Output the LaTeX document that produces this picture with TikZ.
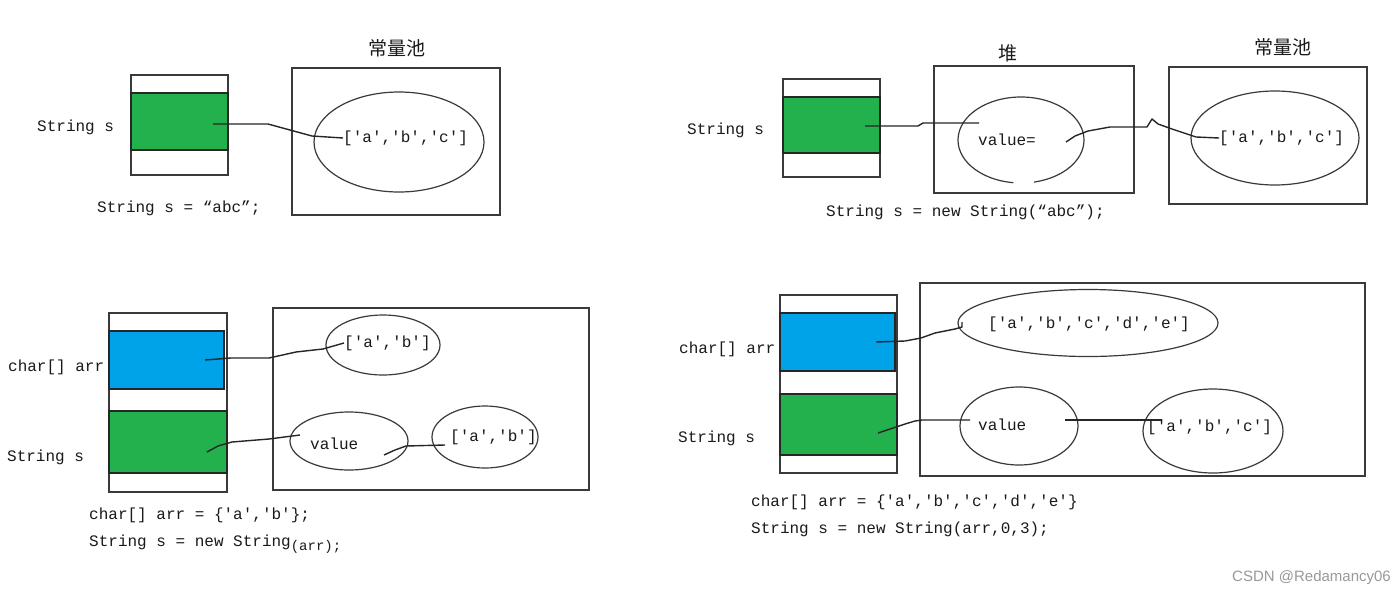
\documentclass[tikz,border=0pt]{standalone}
\usepackage{fontspec}
\setmonofont{Liberation Mono}
\newfontfamily\cjkfont{Noto Sans CJK SC}
\newfontfamily\wmfont{Liberation Sans}
\usetikzlibrary{shapes.geometric}
\definecolor{pgreen}{HTML}{22B14C}
\definecolor{pblue}{HTML}{00A2E8}
\definecolor{lineclr}{HTML}{3A3A3A}
\definecolor{txtclr}{HTML}{1A1A1A}
\begin{document}
\begin{tikzpicture}[x=1pt,y=-1pt,
  box/.style={draw=lineclr, line width=1.2pt, fill=white, anchor=north west, inner sep=0pt, outer sep=0pt},
  cell/.style={draw=black!85, line width=1.4pt, anchor=north west, inner sep=0pt, outer sep=0pt},
  oval/.style={draw=lineclr, ellipse, line width=1.2pt, inner sep=0pt},
  code/.style={font=\ttfamily\fontsize{16}{18}\selectfont, text=txtclr, inner sep=0pt, anchor=west},
  title/.style={font=\cjkfont\fontsize{19}{20}\selectfont, text=txtclr, inner sep=0pt},
  link/.style={draw=black!85, line width=1.4pt, line join=round}
]
\useasboundingbox[fill=white] (0,0) rectangle (1400,595);

%% ---------------- Panel 1 ----------------
\node[box, minimum width=97, minimum height=100] (stack1) at (131,75) {};
\node[cell, fill=pgreen, minimum width=97, minimum height=57] (cell1) at (131,93) {};
\node[code] (lab1) at (37,127) {String s};
\node[box, minimum width=208, minimum height=147] (pool1) at (292,68) {};
\node[title] (tit1) at (397,48) {常量池};
\node[oval, minimum width=170, minimum height=100] (oval1) at (399,142) {};
\node[code] (t1) at (343,138) {['a','b','c']};
\coordinate (c1) at (213,124);
\draw[link] (c1) -- (268,124) -- (290,130) -- (312,136) -- (t1.west);
\node[code] (cap1) at (97,208) {String s = “abc”;};

%% ---------------- Panel 2 ----------------
\node[box, minimum width=97, minimum height=98] (stack2) at (783,79) {};
\node[cell, fill=pgreen, minimum width=97, minimum height=56] (cell2) at (783,97) {};
\node[code] (lab2) at (687,130) {String s};
\node[box, minimum width=200, minimum height=127] (heap2) at (934,66) {};
\node[title] (tit2) at (1008,53) {堆};
\node[ellipse, minimum width=126, minimum height=86, inner sep=0pt] (oval2) at (1021,140) {};
\draw[draw=lineclr, line width=1.2pt] (oval2.center) ++(97:63 and 43) arc[start angle=97, end angle=438, x radius=63, y radius=43];
\node[code] (v2) at (978,140) {value=};
\node[box, minimum width=198, minimum height=137] (pool2) at (1169,67) {};
\node[title] (tit3) at (1283,47) {常量池};
\node[oval, minimum width=168, minimum height=94] (oval3) at (1275,138) {};
\node[code] (t2) at (1219,138) {['a','b','c']};
\coordinate (c2) at (865,126);
\coordinate (e2) at (979,123);
\draw[link] (c2) -- (918,126) -- (923,123) -- (e2);
\coordinate (e2b) at (1066,142);
\draw[link] (t2.west) -- (1196,137) -- (1172,129) -- (1158,124) -- (1152,119) -- (1147,127)
  -- (1134,127) -- (1110,127) -- (1088,131) -- (1075,136) -- (e2b);
\node[code] (cap2) at (826,212) {String s = new String(“abc”);};

%% ---------------- Panel 3 ----------------
\node[box, minimum width=118, minimum height=179] (stack3) at (109,313) {};
\node[cell, fill=pblue, minimum width=115, minimum height=58] (cell3a) at (109,331) {};
\node[cell, fill=pgreen, minimum width=118, minimum height=62] (cell3b) at (109,411) {};
\node[code] (lab3a) at (8,367) {char[] arr};
\node[code] (lab3b) at (7,457) {String s};
\node[box, minimum width=316, minimum height=182] (heap3) at (273,308) {};
\node[oval, minimum width=114, minimum height=60] (ovalA) at (383,345) {};
\node[code] (tA) at (344,343) {['a','b']};
\node[oval, minimum width=118, minimum height=58] (ovalB) at (349,441) {};
\node[code] (tB) at (310,444) {value};
\node[oval, minimum width=106, minimum height=62] (ovalC) at (485,437) {};
\node[code] (tC) at (450,437) {['a','b']};
\coordinate (c3a) at (205,360);
\draw[link] (c3a) -- (231,358) -- (269,358) -- (296,352) -- (323,349) -- (tA.west);
\coordinate (c3b) at (207,452);
\coordinate (e3b) at (300,435);
\draw[link] (c3b) -- (218,446) -- (232,442) -- (269,439) -- (e3b);
\coordinate (c3c) at (384,455);
\coordinate (e3c) at (445,445);
\draw[link] (c3c) -- (395,450) -- (406,446) -- (e3c);
\node[code] (cap3a) at (89,515) {char[] arr = \{'a','b'\};};
\node[code] (cap3b) at (89,544) {String s = new String\raisebox{-4pt}{\fontsize{14}{16}\selectfont(arr);}};

%% ---------------- Panel 4 ----------------
\node[box, minimum width=117, minimum height=178] (stack4) at (780,295) {};
\node[cell, fill=pblue, minimum width=115, minimum height=58] (cell4a) at (780,313) {};
\node[cell, fill=pgreen, minimum width=117, minimum height=61] (cell4b) at (780,394) {};
\node[code] (lab4a) at (679,349) {char[] arr};
\node[code] (lab4b) at (678,438) {String s};
\node[box, minimum width=445, minimum height=193] (heap4) at (920,283) {};
\node[oval, minimum width=260, minimum height=67] (ovalD) at (1088,323) {};
\node[code] (tD) at (988,324) {['a','b','c','d','e']};
\node[oval, minimum width=118, minimum height=78] (ovalE) at (1019,426) {};
\node[code] (tE) at (978,425) {value};
\node[oval, minimum width=140, minimum height=84] (ovalF) at (1213,431) {};
\node[code] (tF) at (1147,427) {['a','b','c']};
\coordinate (c4a) at (876,342);
\coordinate (e4a) at (962,322);
\draw[link] (c4a) -- (905,341) -- (921,338) -- (935,333) -- (955,329) -- (962,327) -- (e4a);
\coordinate (c4b) at (878,433);
\coordinate (e4b) at (970,420);
\draw[link] (c4b) -- (905,424) -- (915,421) -- (922,420) -- (e4b);
\coordinate (c4c) at (1065,420);
\coordinate (e4c) at (1162,420);
\draw[link] (c4c) -- (e4c);
\node[code] (cap4a) at (751,502) {char[] arr = \{'a','b','c','d','e'\}};
\node[code] (cap4b) at (751,529) {String s = new String(arr,0,3);};

%% watermark
\node[font=\wmfont\fontsize{15}{16}\selectfont, text=black!40, inner sep=0pt, anchor=west] (wm) at (1232,578) {CSDN @Redamancy06};
\end{tikzpicture}
\end{document}
